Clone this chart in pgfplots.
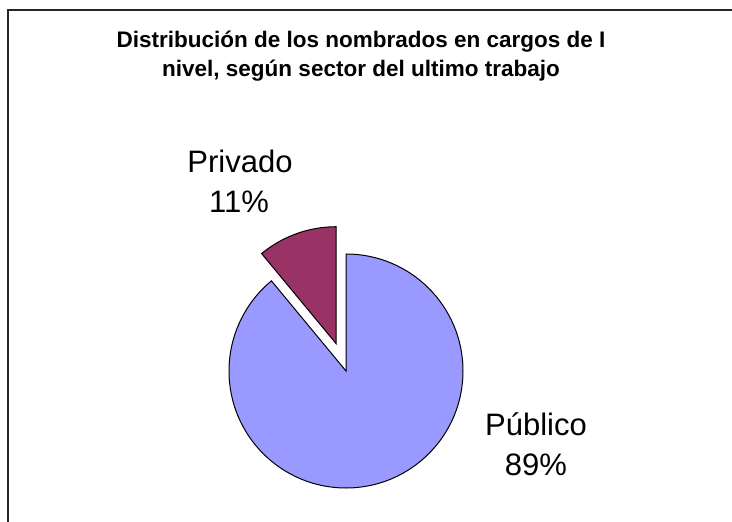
\documentclass[border=0pt]{standalone}
\usepackage{pgfplots}
\pgfplotsset{compat=1.18}
\usepackage{pgfplotstable}
\usepackage{fontspec}
\setmainfont{Liberation Sans}
\definecolor{publico}{HTML}{9999FF}
\definecolor{privado}{HTML}{993366}

% share of the nombrados by sector (%)
\pgfplotstableread{
sector value
Publico 89
Privado 11
}\sectordata

\begin{document}
\begin{tikzpicture}
\pgfplotstablegetelem{0}{value}\of\sectordata \let\vpub\pgfplotsretval
\pgfplotstablegetelem{1}{value}\of\sectordata \let\vpriv\pgfplotsretval
\pgfmathsetmacro{\apub}{360/(\vpub+\vpriv)*\vpub}
\pgfmathsetmacro{\apriv}{360/(\vpub+\vpriv)*\vpriv}
\pgfmathsetmacro{\aend}{90-\apub}
\pgfmathsetmacro{\amid}{90+\apriv/2}
\begin{axis}[
  name=ax,
  width=732pt, height=522pt, scale only axis,
  xmin=0, xmax=732, ymin=0, ymax=522,
  y dir=reverse, hide axis, clip=false,
]
% frame (only left and top edges are visible)
\draw[line width=1.5pt, black!85] (axis cs:8,530) -- (axis cs:8,10) -- (axis cs:740,10);
% Publico slice
\filldraw[fill=publico, draw=black, line width=1pt]
  (axis cs:346,371) -- ++(90:117pt) arc[start angle=90, end angle=\aend, radius=117pt] -- cycle;
% Privado slice, pulled out
\filldraw[fill=privado, draw=black, line width=1pt]
  (axis cs:346,371) ++(\amid:29pt) -- ++(90:117pt)
  arc[start angle=90, end angle=90+\apriv, radius=117pt] -- cycle;
% title
\node[font=\bfseries\fontsize{22.5}{29}\selectfont, anchor=base] at (axis cs:361,47)
  {Distribución de los nombrados en cargos de I};
\node[font=\bfseries\fontsize{22.5}{29}\selectfont, anchor=base] at (axis cs:361,76)
  {nivel, según sector del ultimo trabajo};
% slice labels
\node[font=\fontsize{31}{40}\selectfont, anchor=base] at (axis cs:240,172) {Privado};
\node[font=\fontsize{31}{40}\selectfont, anchor=base] at (axis cs:239,212) {11\%};
\node[font=\fontsize{31}{40}\selectfont, anchor=base] at (axis cs:536,435) {Público};
\node[font=\fontsize{31}{40}\selectfont, anchor=base] at (axis cs:536,475) {89\%};
\end{axis}
\pgfresetboundingbox
\path[use as bounding box] (ax.south west) rectangle (ax.north east);
\end{tikzpicture}
\end{document}
